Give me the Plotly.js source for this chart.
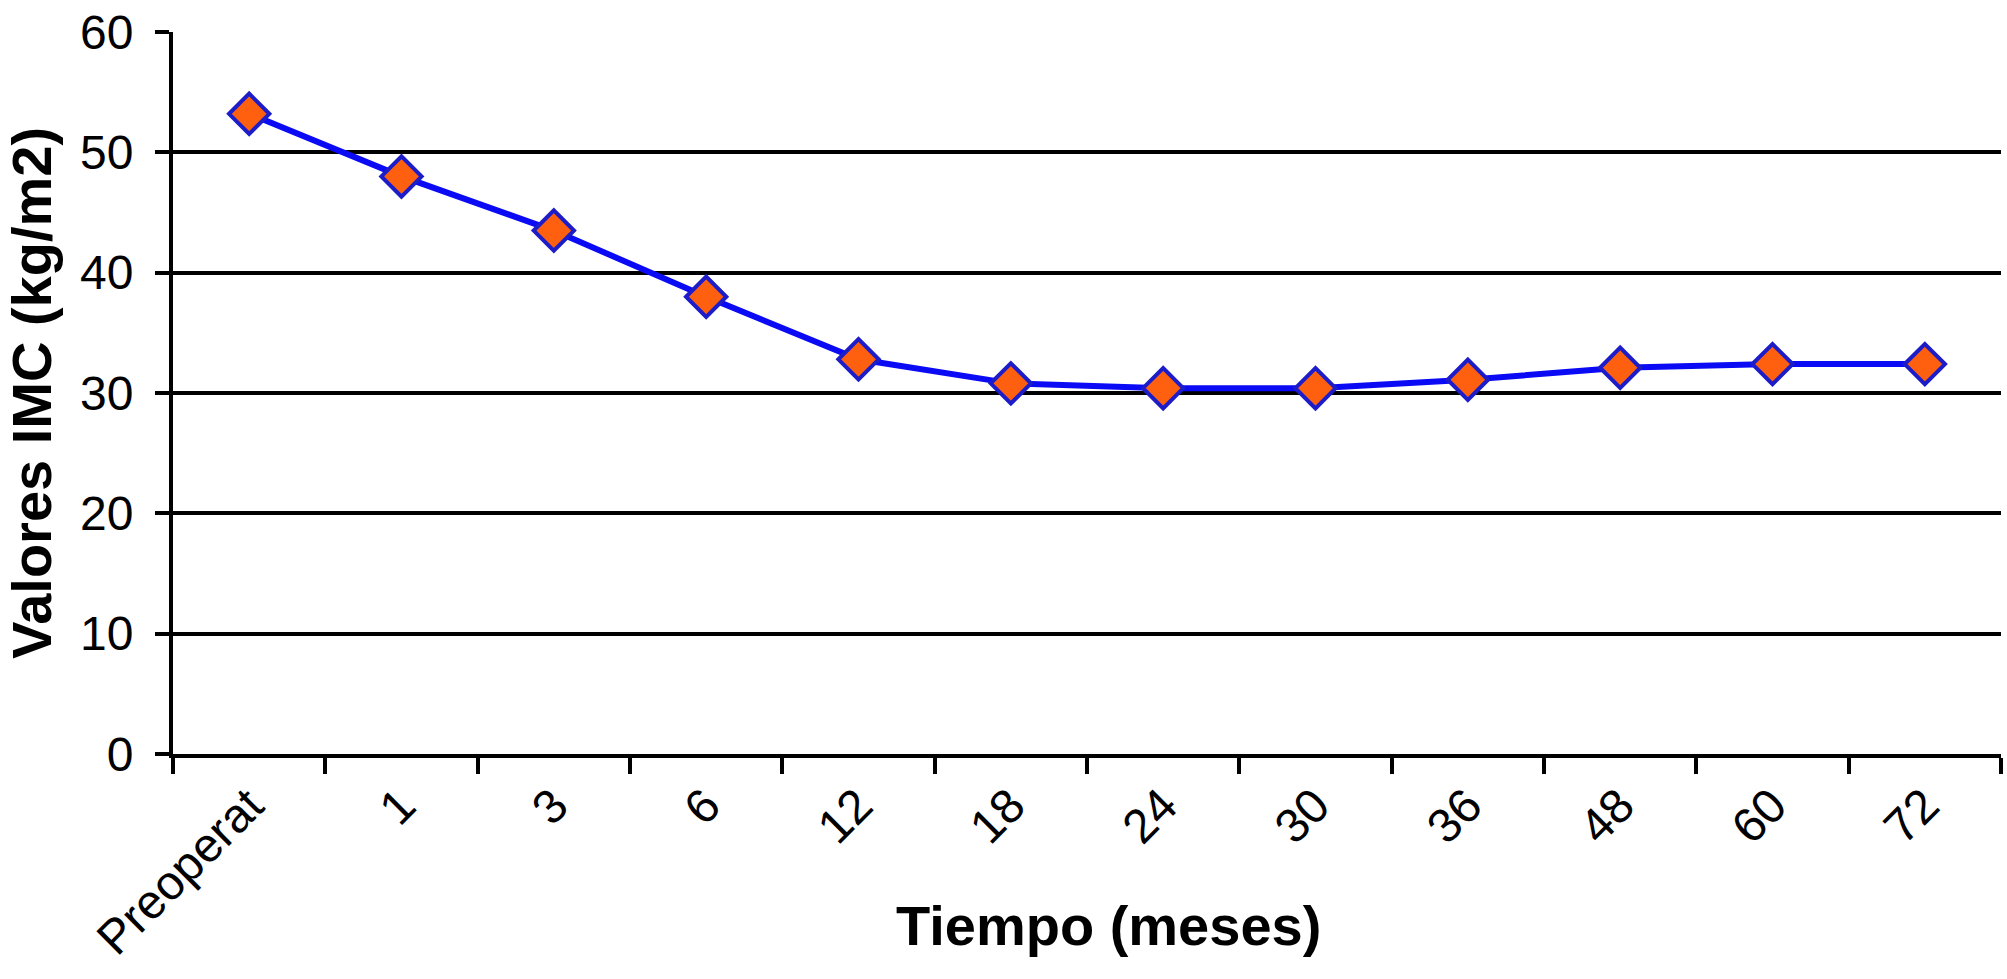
<!DOCTYPE html>
<html>
<head>
<meta charset="utf-8">
<script src="https://cdn.plot.ly/plotly-3.0.1.min.js"></script>
<style>
  html, body { margin: 0; padding: 0; background: #ffffff; }
  #chart { width: 2007px; height: 979px; }
</style>
</head>
<body>
<div id="chart"></div>
<script>
// Data
const categories = ["Preoperat", "1", "3", "6", "12", "18", "24", "30", "36", "48", "60", "72"];
const imcValues = [53.2, 48.0, 43.5, 38.0, 32.8, 30.8, 30.4, 30.4, 31.1, 32.1, 32.4, 32.4];
const yTickValues = [0, 10, 20, 30, 40, 50, 60];

const xTitle = "Tiempo (meses)";
const yTitle = "Valores IMC (kg/m2)";

const FONT = "Liberation Sans, Arial, Helvetica, sans-serif";

const trace = {
  type: "scatter",
  mode: "lines+markers",
  x: categories,
  y: imcValues,
  line: { color: "#0a0af5", width: 6 },
  marker: {
    symbol: "diamond",
    size: 31,
    color: "#ff6010",
    line: { color: "#1c1cc8", width: 4 }
  },
  showlegend: false,
  hoverinfo: "x+y"
};

const layout = {
  width: 2007,
  height: 979,
  margin: { l: 173, r: 6, t: 32, b: 225, pad: 0 },
  paper_bgcolor: "#ffffff",
  plot_bgcolor: "#ffffff",
  font: { family: FONT, color: "#000000", size: 48 },
  showlegend: false,
  xaxis: {
    type: "category",
    range: [-0.5, categories.length - 0.5],
    showgrid: false,
    zeroline: false,
    showline: true,
    linecolor: "#000000",
    linewidth: 4,
    ticks: "outside",
    tickson: "boundaries",
    ticklen: 16,
    tickwidth: 4,
    tickcolor: "#000000",
    tickangle: -45,
    tickfont: { family: FONT, size: 48, color: "#000000" },
    automargin: false
  },
  yaxis: {
    range: [0, 60],
    tickvals: yTickValues,
    showgrid: true,
    gridcolor: "#000000",
    gridwidth: 4,
    zeroline: false,
    showline: true,
    linecolor: "#000000",
    linewidth: 4,
    ticks: "outside",
    ticklen: 14,
    tickwidth: 4,
    tickcolor: "#000000",
    tickfont: { family: FONT, size: 48, color: "#000000" },
    ticklabelstandoff: 12,
    automargin: false,
    title: {
      text: yTitle,
      font: { family: FONT, size: 56, color: "#000000", weight: "bold" },
      standoff: 18
    }
  },
  annotations: [
    {
      // x-axis title, placed as in the reference (slightly right of centre)
      text: xTitle,
      xref: "paper",
      yref: "paper",
      x: 0.512,
      y: -0.237,
      xanchor: "center",
      yanchor: "middle",
      showarrow: false,
      font: { family: FONT, size: 56, color: "#000000", weight: "bold" }
    }
  ]
};

Plotly.newPlot("chart", [trace], layout, { displayModeBar: false, staticPlot: true });
</script>
</body>
</html>
